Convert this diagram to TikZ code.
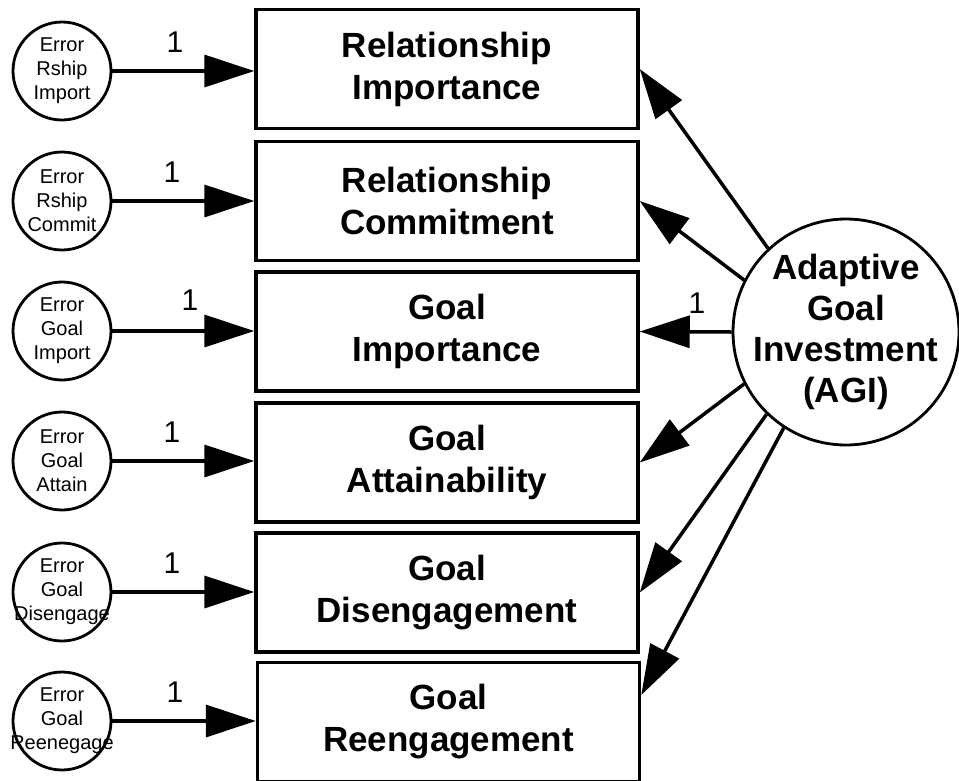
\documentclass[tikz,border=0pt]{standalone}
\usepackage{fontspec}
\setmainfont{Liberation Sans}
\usetikzlibrary{arrows.meta,calc}

% a centred line of zero width, so that the text never widens its circle
\newcommand{\zl}[1]{\makebox[0pt]{#1}}

\begin{document}
\begin{tikzpicture}[x=1pt,y=-1pt,
  indicator/.style={draw, line width=3.5pt, minimum width=382pt, minimum height=119pt,
    inner sep=0pt, align=center, font=\fontsize{35}{42}\selectfont\bfseries},
  errcirc/.style={draw, circle, line width=2.8pt, minimum size=98pt, inner sep=0pt,
    align=center, font=\fontsize{20}{24}\selectfont},
  latent/.style={draw, circle, line width=2.8pt, minimum size=226pt, inner sep=0pt,
    align=center, font=\fontsize{35}{41}\selectfont\bfseries},
  regpath/.style={line width=3.5pt, -{Triangle[length=50pt,width=32pt]}},
  one/.style={font=\fontsize{30}{30}\selectfont, inner sep=0pt}
]
\useasboundingbox (0,0) rectangle (959,780);

% observed indicators
\node[indicator] (b1) at (447,69)  {Relationship\\Importance};
\node[indicator] (b2) at (447,201) {Relationship\\Commitment};
\node[indicator] (b3) at (447,331.5) {Goal\\Importance};
\node[indicator] (b4) at (447,462.5) {Goal\\Attainability};
\node[indicator] (b5) at (447,592.5) {Goal\\Disengagement};
\node[indicator] (b6) at (448.5,722) {Goal\\Reengagement};

% error terms
\node[errcirc] (e1) at (62,71)  {\zl{Error}\\\zl{Rship}\\\zl{Import}};
\node[errcirc] (e2) at (62,201) {\zl{Error}\\\zl{Rship}\\\zl{Commit}};
\node[errcirc] (e3) at (62,331) {\zl{Error}\\\zl{Goal}\\\zl{Import}};
\node[errcirc] (e4) at (62,461) {\zl{Error}\\\zl{Goal}\\\zl{Attain}};
\node[errcirc] (e5) at (62,592) {\zl{Error}\\\zl{Goal}\\\zl{Disengage}};
\node[errcirc] (e6) at (62,721) {\zl{Error}\\\zl{Goal}\\\zl{Reenegage}};

% latent factor
\node[latent] (agi) at (846,332) {\zl{Adaptive}\\\zl{Goal}\\\zl{Investment}\\\zl{(AGI)}};

% error paths
\draw[regpath] (e1) -- (b1.west |- e1);
\draw[regpath] (e2) -- (b2.west |- e2);
\draw[regpath] (e3) -- (b3.west |- e3);
\draw[regpath] (e4) -- (b4.west |- e4);
\draw[regpath] (e5) -- (b5.west |- e5);
\draw[regpath] (e6) -- (b6.west |- e6);

\node[one] (l1) at (175,42)  {1};
\node[one] (l2) at (172,172) {1};
\node[one] (l3) at (190,300) {1};
\node[one] (l4) at (172,432) {1};
\node[one] (l5) at (172,563) {1};
\node[one] (l6) at (175,692) {1};

% factor loadings
\draw[regpath] (agi.133) -- (b1.east);
\draw[regpath] (agi.153) -- (b2.east);
\draw[regpath] (agi.180) -- (b3.east);
\draw[regpath] (agi.207) -- (b4.east);
\draw[regpath] (agi.226) -- (b5.east);
\draw[regpath] (agi.237) -- ($(b6.east)+(0,-27)$);
\node[one] (l7) at (697,303) {1};
\end{tikzpicture}
\end{document}
